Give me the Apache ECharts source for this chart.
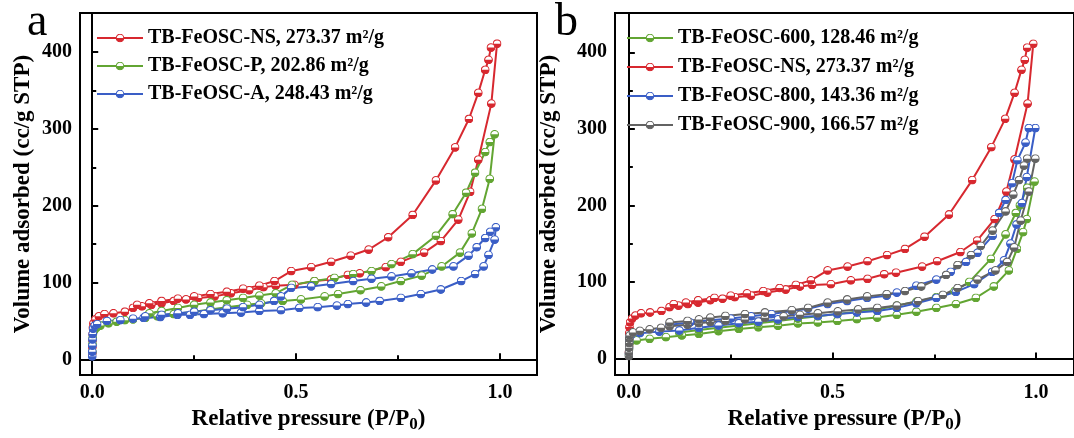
<!DOCTYPE html>
<html>
<head>
<meta charset="utf-8">
<script src="https://cdn.jsdelivr.net/npm/echarts@6/dist/echarts.min.js"></script>
<style>
  html, body { margin: 0; padding: 0; background: #fff; }
  #main { width: 1074px; height: 438px; }
</style>
</head>
<body>
<div id="main"></div>
<script>
// N2 isotherms, [P/P0, volume]
var nsAds = [[0.0002,8],[0.0004,16],[0.0007,25],[0.001,33],[0.0015,41],[0.003,47],[0.008,52],[0.016,56],[0.03,59],[0.052,60],[0.08,62],[0.1,67],[0.122,69],[0.145,71],[0.17,73],[0.2,76],[0.23,78],[0.26,80],[0.3,82],[0.34,86],[0.385,90],[0.42,94],[0.45,96],[0.496,97],[0.545,102],[0.586,104],[0.627,110],[0.656,112],[0.72,120],[0.757,127],[0.814,139],[0.855,154],[0.898,182],[0.927,218],[0.947,260],[0.979,333],[0.993,411]]
var nsDes = [[0.978,406],[0.972,390],[0.964,377],[0.947,347],[0.924,313],[0.89,276],[0.843,233],[0.786,188],[0.726,159],[0.678,143],[0.634,135],[0.586,127],[0.537,120],[0.488,115],[0.447,102],[0.41,96],[0.37,92],[0.33,88],[0.29,85],[0.25,82],[0.21,79],[0.17,76],[0.14,73],[0.11,71]]

var pAds = [[0.0003,10],[0.0006,20],[0.001,28],[0.002,34],[0.005,38],[0.01,41],[0.02,44],[0.04,47],[0.06,49],[0.08,51],[0.1,52],[0.13,54],[0.16,56],[0.2,59],[0.25,62],[0.29,65],[0.33,68],[0.38,71],[0.414,73],[0.467,76],[0.512,78],[0.57,82],[0.603,85],[0.658,90],[0.709,95],[0.757,102],[0.808,109],[0.857,121],[0.902,139],[0.931,164],[0.956,196],[0.975,235],[0.987,293]]
var pDes = [[0.975,283],[0.964,270],[0.939,243],[0.917,217],[0.884,189],[0.843,161],[0.786,137],[0.734,124],[0.685,115],[0.64,111],[0.594,106],[0.545,102],[0.49,97],[0.45,86],[0.41,83],[0.37,80],[0.33,77],[0.29,74],[0.25,71],[0.21,67],[0.17,63],[0.14,60]]

var aAds = [[0.0001,4],[0.0002,10],[0.0004,18],[0.0007,26],[0.001,33],[0.002,40],[0.006,44],[0.012,46],[0.036,50],[0.069,51],[0.1,53],[0.126,54],[0.167,55],[0.209,58],[0.24,58],[0.274,59],[0.32,60],[0.365,61],[0.41,63],[0.463,64],[0.508,67],[0.553,68],[0.6,70],[0.627,72],[0.672,74],[0.705,76],[0.757,80],[0.806,85],[0.855,91],[0.905,102],[0.939,111],[0.96,121],[0.972,136],[0.987,156]]
var aDes = [[0.99,172],[0.976,166],[0.964,158],[0.943,146],[0.923,135],[0.886,121],[0.834,117],[0.783,112],[0.734,108],[0.685,105],[0.64,102],[0.586,98],[0.537,95],[0.488,93],[0.463,82],[0.446,76],[0.41,71],[0.37,68],[0.33,66],[0.29,64],[0.25,62],[0.21,60],[0.17,58],[0.13,56]]

var s600Ads = [[0.0002,5],[0.0005,12],[0.001,18],[0.002,21],[0.019,23.5],[0.051,25.6],[0.091,27.8],[0.13,30],[0.172,32],[0.22,35.5],[0.27,38.5],[0.318,40.6],[0.366,42.7],[0.415,45.7],[0.464,47],[0.512,49],[0.56,51.3],[0.61,53.4],[0.658,57],[0.706,61],[0.755,66],[0.803,71],[0.852,79],[0.896,94],[0.933,115],[0.953,143],[0.968,165],[0.977,182],[0.996,231]]
var s600Des = [[0.978,223],[0.96,200],[0.95,190],[0.925,162],[0.889,130],[0.836,100],[0.8,88],[0.755,80],[0.706,74],[0.658,69],[0.61,64],[0.56,61],[0.512,58],[0.464,55],[0.415,52],[0.366,49],[0.318,46],[0.27,43],[0.22,40],[0.172,37],[0.124,34]]

var s800Ads = [[0.0002,6],[0.0005,14],[0.001,22],[0.002,28],[0.006,31],[0.027,33],[0.075,35],[0.124,36.5],[0.172,40],[0.22,43],[0.27,46],[0.318,48],[0.366,51],[0.415,54],[0.464,55.5],[0.512,58],[0.56,60],[0.61,62],[0.658,66],[0.706,72],[0.755,79],[0.803,87],[0.848,97],[0.892,113],[0.921,128],[0.937,150],[0.952,175],[0.965,203],[0.977,237],[0.998,301]]
var s800Des = [[0.982,301],[0.974,282],[0.954,259],[0.941,229],[0.925,207],[0.909,190],[0.893,160],[0.856,138],[0.828,126],[0.79,113],[0.755,103],[0.706,95],[0.658,86],[0.633,82],[0.585,79],[0.536,75],[0.488,71],[0.44,65],[0.4,62],[0.35,58],[0.3,55],[0.25,52],[0.2,50],[0.15,47],[0.1,44]]

var s900Ads = [[0.0001,3],[0.0002,8],[0.0004,14],[0.0007,20],[0.001,26],[0.002,30],[0.01,34],[0.027,36],[0.051,38],[0.079,40],[0.1,42],[0.144,44],[0.172,46],[0.2,47.5],[0.237,49],[0.285,51],[0.334,53],[0.38,55],[0.42,57],[0.464,59],[0.513,61.5],[0.563,64],[0.61,66],[0.658,69],[0.71,75],[0.771,83],[0.807,92],[0.856,103],[0.9,115],[0.929,126],[0.946,145],[0.962,180],[0.982,218],[0.998,261]]
var s900Des = [[0.978,261],[0.97,252],[0.958,233],[0.944,214],[0.925,192],[0.893,167],[0.864,147],[0.84,135],[0.807,122],[0.779,109],[0.718,94],[0.678,88],[0.633,84],[0.585,81],[0.536,77],[0.488,73],[0.44,66],[0.4,63],[0.334,60],[0.285,58],[0.237,55.5],[0.2,53.4],[0.172,51],[0.144,49],[0.1,47]]

var xTicks = [0, 0.5, 1]
var xMinor = [0.25, 0.75]
var yTicks = [0, 100, 200, 300, 400]
var yMinor = [50, 150, 250, 350]

var RED = '#d7282f', GREEN = '#62a532', BLUE = '#3a5ec6', GRAY = '#636363'
var FONT = '"Liberation Serif", "Times New Roman", serif'

// half filled circle marker (white top, coloured bottom)
function halfDot(c) {
  var svg = '<svg xmlns="http://www.w3.org/2000/svg" width="20" height="20" viewBox="0 0 20 20">' +
    '<circle cx="10" cy="10" r="8.6" fill="#fff" stroke="' + c + '" stroke-width="2.4"/>' +
    '<path d="M1.4 10 A8.6 8.6 0 0 0 18.6 10 Z" fill="' + c + '"/></svg>'
  return 'image://data:image/svg+xml;charset=utf-8,' + encodeURIComponent(svg)
}

function mkSeries(name, color, ads, des, gi) {
  return {
    name: name,
    type: 'line',
    xAxisIndex: gi * 2,
    yAxisIndex: gi * 2,
    data: ads.concat(des),
    symbol: halfDot(color),
    symbolSize: 9,
    showSymbol: true,
    lineStyle: { color: color, width: 2 },
    itemStyle: { color: color },
    emphasis: { disabled: true }
  }
}

function xAxes(gi, min, max) {
  return [
    {
      type: 'value', gridIndex: gi, min: min, max: max, position: 'bottom',
      axisLine: { lineStyle: { color: '#000', width: 2 } },
      axisTick: { inside: true, length: 6, customValues: xTicks, lineStyle: { color: '#000', width: 2 } },
      axisLabel: {
        customValues: xTicks, margin: 8, color: '#000', fontFamily: FONT, fontWeight: 'bold', fontSize: 20,
        formatter: function (v) { return v.toFixed(1) }
      },
      splitLine: { show: false },
      name: 'Relative pressure (P/P{s|0})', nameLocation: 'middle', nameGap: 28,
      nameTextStyle: {
        color: '#000', fontFamily: FONT, fontWeight: 'bold', fontSize: 23,
        rich: { s: { fontFamily: FONT, fontWeight: 'bold', fontSize: 17, padding: [10, 0, 0, 0] } }
      }
    },
    {
      type: 'value', gridIndex: gi, min: min, max: max, position: 'bottom',
      axisLine: { show: false },
      axisTick: { inside: true, length: 4, customValues: xMinor, lineStyle: { color: '#000', width: 2 } },
      axisLabel: { show: false },
      splitLine: { show: false }
    }
  ]
}

function yAxes(gi, min, max, gap) {
  return [
    {
      type: 'value', gridIndex: gi, min: min, max: max, position: 'left',
      axisLine: { show: true, lineStyle: { color: '#000', width: 2 } },
      axisTick: { show: true, inside: true, length: 6, customValues: yTicks, lineStyle: { color: '#000', width: 2 } },
      axisLabel: { customValues: yTicks, margin: 8, color: '#000', fontFamily: FONT, fontWeight: 'bold', fontSize: 20 },
      splitLine: { show: false },
      name: 'Volume adsorbed (cc/g STP)', nameLocation: 'middle', nameGap: gap, nameRotate: 90,
      nameTextStyle: { color: '#000', fontFamily: FONT, fontWeight: 'bold', fontSize: 23 }
    },
    {
      type: 'value', gridIndex: gi, min: min, max: max, position: 'left',
      axisLine: { show: false },
      axisTick: { show: true, inside: true, length: 4, customValues: yMinor, lineStyle: { color: '#000', width: 2 } },
      axisLabel: { show: false },
      splitLine: { show: false }
    }
  ]
}

var legendText = { color: '#000', fontFamily: FONT, fontWeight: 'bold', fontSize: 20 }

var nameNS = 'TB-FeOSC-NS, 273.37 m²/g'
var nameP = 'TB-FeOSC-P, 202.86 m²/g'
var nameA = 'TB-FeOSC-A, 248.43 m²/g'
var name600 = 'TB-FeOSC-600, 128.46 m²/g'
var name800 = 'TB-FeOSC-800, 143.36 m²/g'
var name900 = 'TB-FeOSC-900, 166.57 m²/g'

var option = {
  animation: false,
  backgroundColor: '#fff',
  grid: [
    { left: 80, top: 13, width: 457, height: 369, show: true, borderColor: '#000', borderWidth: 2 },
    { left: 615, top: 13, width: 462, height: 369, show: true, borderColor: '#000', borderWidth: 2 }
  ],
  xAxis: xAxes(0, -0.03, 1.091).concat(xAxes(1, -0.034, 1.093)),
  yAxis: yAxes(0, -20.5, 451, 45).concat(yAxes(1, -21.8, 451.3, 54)),
  legend: [
    {
      orient: 'vertical', left: 91, top: 23, itemWidth: 46, itemHeight: 11, itemGap: 8,
      selectedMode: false, textStyle: legendText, data: [nameNS, nameP, nameA]
    },
    {
      orient: 'vertical', left: 621, top: 23, itemWidth: 46, itemHeight: 11, itemGap: 9,
      selectedMode: false, textStyle: legendText, data: [name600, nameNS, name800, name900]
    }
  ],
  graphic: [
    { type: 'text', left: 27, top: 0, style: { text: 'a', font: 'normal 46px ' + FONT, fill: '#000' } },
    { type: 'text', left: 555, top: 0, style: { text: 'b', font: 'normal 46px ' + FONT, fill: '#000' } }
  ],
  series: [
    mkSeries(nameNS, RED, nsAds, nsDes, 0),
    mkSeries(nameP, GREEN, pAds, pDes, 0),
    mkSeries(nameA, BLUE, aAds, aDes, 0),
    mkSeries(name600, GREEN, s600Ads, s600Des, 1),
    mkSeries(nameNS, RED, nsAds, nsDes, 1),
    mkSeries(name800, BLUE, s800Ads, s800Des, 1),
    mkSeries(name900, GRAY, s900Ads, s900Des, 1)
  ]
}

var myChart = echarts.init(document.getElementById('main'))
myChart.setOption(option)
</script>
</body>
</html>
